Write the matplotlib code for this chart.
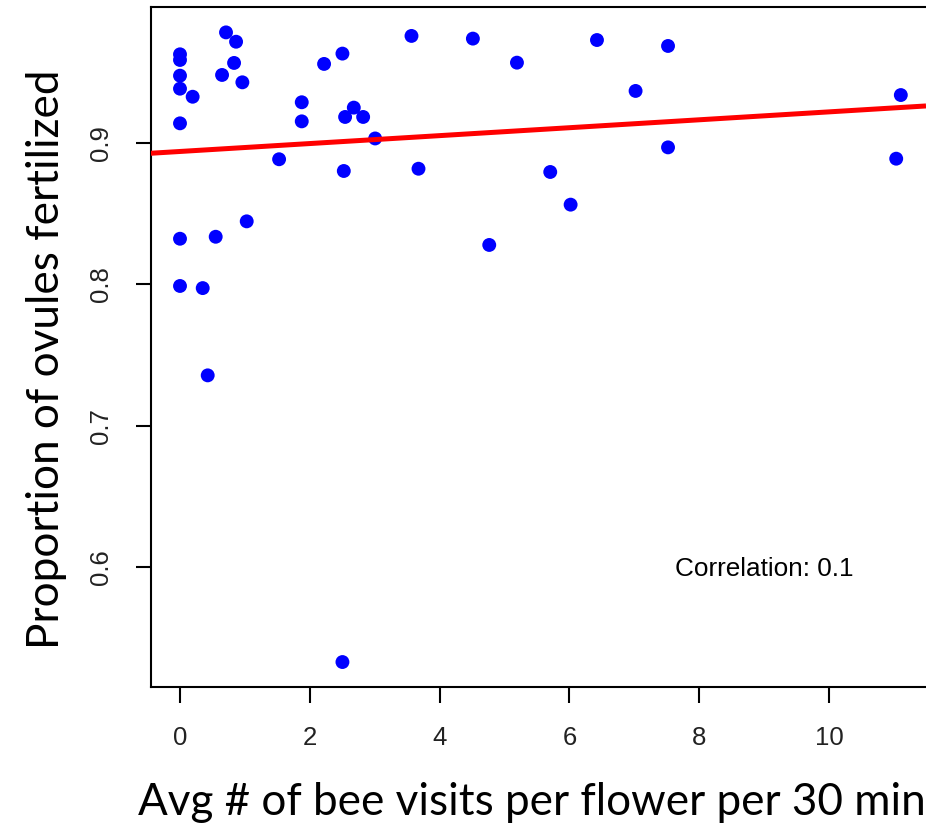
import matplotlib
matplotlib.use("Agg")
import matplotlib.pyplot as plt
import numpy as np

# avg bee visits per flower per 30 min
visits = [0, 0, 0, 0, 0.195, 0, 0.709, 0.864, 0.833, 0.648, 0.961,
          1.876, 1.876, 1.527, 2.22, 2.503, 2.678, 2.544, 2.822, 3.007, 2.524,
          3.567, 4.513, 5.192, 6.425, 7.52, 7.02, 3.675, 5.705, 6.019, 4.765,
          7.52, 11.107, 11.036, 0, 0.55, 1.028, 0, 0.35, 0.427, 2.503]
# proportion of ovules fertilized
fertilized = [0.9625, 0.9585, 0.9474, 0.9382, 0.9325, 0.9137, 0.978, 0.9714,
              0.9564, 0.9479, 0.9427, 0.9286, 0.9151, 0.8883, 0.9557, 0.963,
              0.9248, 0.9182, 0.9182, 0.903, 0.88, 0.9755, 0.9736, 0.9566,
              0.9726, 0.9684, 0.9366, 0.8816, 0.8793, 0.8562, 0.8277, 0.8967,
              0.9337, 0.8887, 0.8321, 0.8335, 0.8444, 0.7987, 0.7972, 0.7355,
              0.5328]

fit_intercept = 0.8938
fit_slope = 0.0028
corr_text = "Correlation: 0.1"

xticks = [0, 2, 4, 6, 8, 10]
yticks = [0.6, 0.7, 0.8, 0.9]

fig = plt.figure(figsize=(9.26, 8.25), dpi=100)
ax = fig.add_axes([150.7 / 926, 1 - 687 / 825, 1 - 150.7 / 926, (687 - 7.3) / 825])

ax.scatter(visits, fertilized, s=100, color="#0000ff", edgecolors="none", zorder=2)

xl = np.array([-0.4515, 11.495])
ax.plot(xl, fit_intercept + fit_slope * xl, color="#ff0000", lw=3.6, zorder=3,
        solid_capstyle="butt")

ax.text(9.0, 0.5936, corr_text, ha="center", va="baseline",
        fontsize=18.8, family="Liberation Sans")

ax.set_xlim(-0.4515, 11.495)
ax.set_ylim(0.51515, 0.99574)
ax.set_xticks(xticks)
ax.set_xticklabels([str(t) for t in xticks])
ax.set_yticks(yticks)
ax.set_yticklabels([str(t) for t in yticks], rotation=90, va="center")

for lab in ax.get_xticklabels() + ax.get_yticklabels():
    lab.set_family("Liberation Sans")
    lab.set_fontsize(18.5)
    lab.set_color("#222222")

ax.tick_params(axis="x", length=11.5, width=1.5, pad=16.5)
ax.tick_params(axis="y", length=11, width=1.5, pad=16)

for side in ["left", "bottom", "top"]:
    ax.spines[side].set_linewidth(1.5)
ax.spines["right"].set_visible(False)

fig.text(532 / 926, 1 - 815 / 825, "Avg # of bee visits per flower per 30 min",
         ha="center", va="baseline", fontsize=31.7, family="Lato")
fig.text(47 / 926, 1 - 359 / 825, "Proportion of ovules fertilized",
         ha="center", va="center", rotation=90, fontsize=31.8, family="Lato")

fig.savefig("out.png", dpi=100)
